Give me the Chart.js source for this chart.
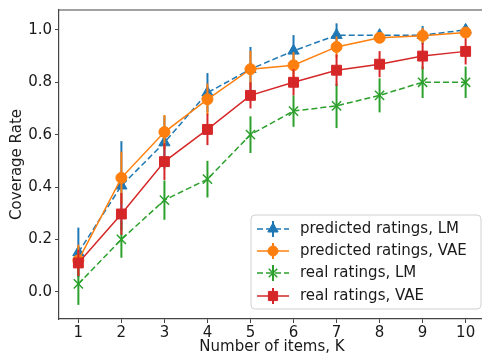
<!DOCTYPE html>
<html><head><meta charset="utf-8">
<script src="https://cdn.jsdelivr.net/npm/chart.js@4/dist/chart.umd.min.js"></script>
<style>html,body{margin:0;padding:0;background:#fff;overflow:hidden}#wrap{width:493px;height:358px;margin-top:-2px}</style>
</head><body><div id="wrap"><canvas id="c" width="493" height="358"></canvas></div>
<script>
const categories=[1,2,3,4,5,6,7,8,9,10];
const predLM=[0.15,0.405,0.57,0.76,0.85,0.92,0.98,0.98,0.98,1.0];
const predLMErr=[0.095,0.17,0.10,0.075,0.085,0.06,0.045,0.02,0.035,0.02];
const predVAE=[0.12,0.435,0.61,0.735,0.85,0.865,0.935,0.97,0.978,0.99];
const predVAEErr=[0.06,0.10,0.065,0.06,0.07,0.05,0.04,0.02,0.03,0.02];
const realLM=[0.03,0.2,0.35,0.43,0.6,0.69,0.71,0.75,0.8,0.8];
const realLMErr=[0.08,0.07,0.075,0.07,0.07,0.06,0.085,0.065,0.06,0.06];
const realVAE=[0.11,0.297,0.497,0.62,0.75,0.80,0.846,0.869,0.90,0.918];
const realVAEErr=[0.05,0.08,0.07,0.06,0.05,0.05,0.06,0.05,0.05,0.05];
const seriesNames=['predicted ratings, LM','predicted ratings, VAE','real ratings, LM','real ratings, VAE'];
const yTicks=[0,0.2,0.4,0.6,0.8,1.0];
const xTicks=categories;

const FONT='DejaVu Sans';
const TXT='#1a1a1a';
const pts=a=>categories.map((k,i)=>({x:k,y:a[i]}));

const styles=[
 {color:'#1f77b4',dash:[6,3],style:'triangle',r:6.5},
 {color:'#ff7f0e',dash:[],style:'circle',r:5.5},
 {color:'#2ca02c',dash:[6,3],style:'crossRot',r:6.5},
 {color:'#d62728',dash:[],style:'rect',r:7}
];
const vals=[predLM,predVAE,realLM,realVAE];
const errs=[predLMErr,predVAEErr,realLMErr,realVAEErr];

const datasets=vals.map((v,i)=>({
  label:seriesNames[i],
  data:pts(v),
  errors:errs[i],
  borderColor:styles[i].color,
  backgroundColor:styles[i].color,
  borderWidth:1.5,
  borderDash:styles[i].dash,
  pointStyle:styles[i].style,
  pointRadius:styles[i].r,
  pointBorderWidth:styles[i].style==='crossRot'?1.5:1,
  pointBorderColor:styles[i].color,
  pointBackgroundColor:styles[i].color,
  tension:0,
  fill:false,
  order:4-i
}));

const errorBars={
  id:'errorBars',
  beforeDatasetDraw(chart,args){
    const ds=chart.data.datasets[args.index];
    const xs=chart.scales.x, ys=chart.scales.y;
    const ctx=chart.ctx;
    ctx.save();
    ctx.strokeStyle=ds.borderColor;
    ctx.lineWidth=2;
    ctx.setLineDash([]);
    ds.data.forEach((p,i)=>{
      const e=ds.errors[i];
      const px=xs.getPixelForValue(p.x);
      ctx.beginPath();
      ctx.moveTo(px,ys.getPixelForValue(p.y-e));
      ctx.lineTo(px,ys.getPixelForValue(p.y+e));
      ctx.stroke();
    });
    ctx.restore();
  }
};

const frame={
  id:'frame',
  afterDraw(chart){
    const {ctx,chartArea:a}=chart;
    ctx.save();
    ctx.strokeStyle='#444';
    ctx.lineWidth=1.2;
    ctx.beginPath();
    ctx.moveTo(a.left,a.top);ctx.lineTo(a.right,a.top);
    ctx.stroke();
    // legend (canvas is shifted up by 2px)
    const lx=251,ly=217,lw=230,lh=94,rad=4;
    ctx.beginPath();
    ctx.moveTo(lx+rad,ly);ctx.lineTo(lx+lw-rad,ly);ctx.quadraticCurveTo(lx+lw,ly,lx+lw,ly+rad);
    ctx.lineTo(lx+lw,ly+lh-rad);ctx.quadraticCurveTo(lx+lw,ly+lh,lx+lw-rad,ly+lh);
    ctx.lineTo(lx+rad,ly+lh);ctx.quadraticCurveTo(lx,ly+lh,lx,ly+lh-rad);
    ctx.lineTo(lx,ly+rad);ctx.quadraticCurveTo(lx,ly,lx+rad,ly);
    ctx.closePath();
    ctx.fillStyle='rgba(255,255,255,0.85)';
    ctx.fill();
    ctx.strokeStyle='#d0d0d0';
    ctx.lineWidth=1;
    ctx.stroke();
    const rows=[231,253,275,298];
    chart.data.datasets.forEach((ds,i)=>{
      const y=rows[i];
      const x0=257,x1=289,xm=273;
      ctx.strokeStyle=ds.borderColor;
      ctx.lineWidth=1.5;
      ctx.setLineDash(ds.borderDash);
      ctx.beginPath();ctx.moveTo(x0,y);ctx.lineTo(x1,y);ctx.stroke();
      ctx.setLineDash([]);
      ctx.lineWidth=2;
      ctx.beginPath();ctx.moveTo(xm,y-8);ctx.lineTo(xm,y+8);ctx.stroke();
      ctx.fillStyle=ds.borderColor;
      ctx.lineWidth=ds.pointBorderWidth;
      Chart.helpers.drawPoint(ctx,{pointStyle:ds.pointStyle,radius:ds.pointRadius-0.5,borderWidth:ds.pointBorderWidth,rotation:0},xm,y);
      ctx.fillStyle=TXT;
      ctx.font='15px "'+FONT+'"';
      ctx.textBaseline='middle';
      ctx.textAlign='left';
      ctx.fillText(ds.label,300,y);
    });
    ctx.restore();
  }
};

new Chart(document.getElementById('c'),{
  type:'line',
  data:{datasets},
  plugins:[errorBars,frame],
  options:{
    responsive:false,animation:false,devicePixelRatio:1,
    layout:{padding:{top:8,right:8,left:0,bottom:0}},
    plugins:{legend:{display:false},tooltip:{enabled:false}},
    scales:{
      x:{type:'linear',min:0.55,max:10.45,
        afterBuildTicks:s=>{s.ticks=xTicks.map(v=>({value:v}));},
        afterFit:s=>{s.height=37;},
        ticks:{color:TXT,font:{family:FONT,size:15},padding:1,maxRotation:0,autoSkip:false,callback:v=>String(v)},
        grid:{display:true,drawOnChartArea:false,drawTicks:true,tickLength:4,color:'#444',lineWidth:1},
        border:{display:true,color:'#444',width:1.2},
        title:{display:true,text:'Number of items, K',color:TXT,font:{family:FONT,size:15},padding:{top:0,bottom:0}}
      },
      y:{type:'linear',min:-0.104,max:1.076,
        afterBuildTicks:s=>{s.ticks=yTicks.map(v=>({value:v}));},
        afterFit:s=>{s.width=59;},
        ticks:{color:TXT,font:{family:FONT,size:15},padding:3,callback:v=>Number(v).toFixed(1)},
        grid:{display:true,drawOnChartArea:false,drawTicks:true,tickLength:4,color:'#444',lineWidth:1},
        border:{display:true,color:'#444',width:1.2},
        title:{display:true,text:'Coverage Rate',color:TXT,font:{family:FONT,size:15},padding:{top:8,bottom:0}}
      }
    }
  }
});
</script></body></html>
